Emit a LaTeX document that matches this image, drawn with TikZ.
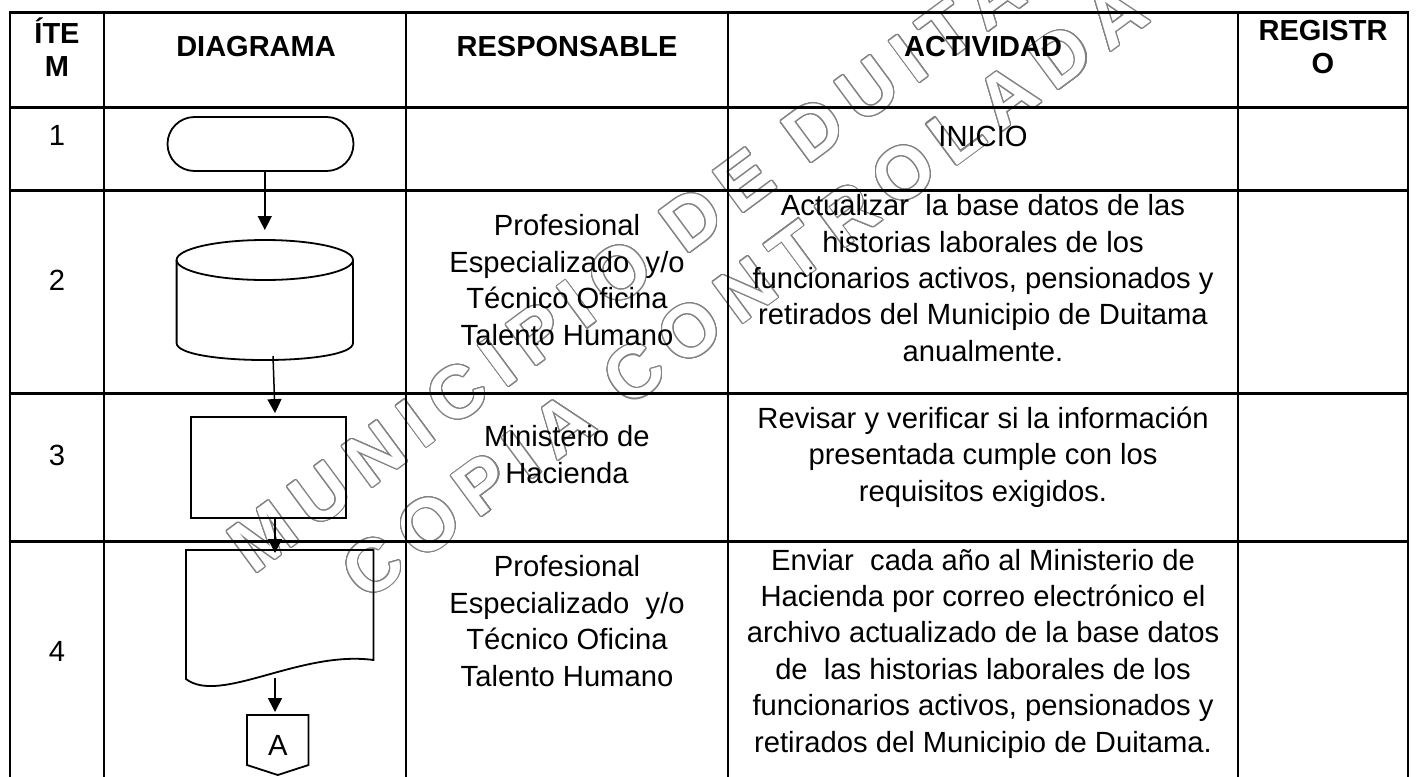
\documentclass[tikz,border=0pt]{standalone}
\usepackage{fontspec}
\setmainfont{Liberation Sans}
\usetikzlibrary{arrows.meta,shapes.misc}
\definecolor{wmgray}{RGB}{130,130,130}
\begin{document}
\begin{tikzpicture}[x=0.5pt,y=-0.5pt,
  grid/.style={line width=1.2pt},
  shp/.style={draw, line width=0.9pt},
  inv/.style={inner sep=0, outer sep=0},
  arr/.style={line width=0.75pt, -{Triangle[length=7pt,width=7pt]}},
  hd/.style={font=\fontsize{14.5}{16.5}\selectfont\bfseries, align=center, inner sep=0},
  txt/.style={font=\fontsize{14.6}{18.2}\selectfont, align=center, inner sep=0},
  wm/.style={font=\fontsize{37}{40}\selectfont\bfseries\addfontfeature{LetterSpace=19}, rotate=36.5, inner sep=0}
]
\useasboundingbox (0,0) rectangle (1416,776);
\fill[white] (0,0) rectangle (1416,776);

% watermark (outlined text)
\foreach \a in {0,15,...,345} {
  \node[wm, text=wmgray] at ([shift={(\a:0.55pt)}]684,225) {MUNICIPIO DE DUITAMA};
  \node[wm, text=wmgray] at ([shift={(\a:0.55pt)}]744,291) {COPIA CONTROLADA};
}
\node[wm, text=white] (wm1) at (684,225) {MUNICIPIO DE DUITAMA};
\node[wm, text=white] (wm2) at (744,291) {COPIA CONTROLADA};

% table grid
\draw[grid] (10,12.5) rectangle (1408,800);
\foreach \y in {107.5,190.5,393.5,541.5} \draw[grid] (10,\y) -- (1408,\y);
\foreach \x in {104,406,728,1238} \draw[grid] (\x,12.5) -- (\x,800);

% header
\node[hd] (hitem) at (57,47) {ÍTE\\M};
\node[hd] (hdiag) at (256,47) {DIAGRAMA};
\node[hd] (hresp) at (567,47) {RESPONSABLE};
\node[hd] (hact) at (983,47) {ACTIVIDAD};
\node[hd] (hreg) at (1323,47) {REGISTR\\O};

% item numbers
\node[txt] (n1) at (57,135) {1};
\node[txt] (n2) at (57,280) {2};
\node[txt] (n3) at (57,455) {3};
\node[txt] (n4) at (57,651) {4};

% responsables
\node[txt] (r2) at (567,280) {Profesional\\Especializado\ \ y/o\\Técnico Oficina\\Talento Humano};
\node[txt] (r3) at (567,454.5) {Ministerio de\\Hacienda};
\node[txt] (r4) at (567,621) {Profesional\\Especializado\ \ y/o\\Técnico Oficina\\Talento Humano};

% actividades
\node[txt] (a1) at (983,136.5) {INICIO};
\node[txt] (a2) at (983,278) {Actualizar\ \ la base datos de las\\historias laborales de los\\funcionarios activos, pensionados y\\retirados del Municipio de Duitama\\anualmente.};
\node[txt] (a3) at (983,457) {Revisar y verificar si la información\\presentada cumple con los\\requisitos exigidos.};
\node[txt] (a4) at (983,653.5) {Enviar\ \ cada año al Ministerio de\\Hacienda por correo electrónico el\\archivo actualizado de la base datos\\de\ \ las historias laborales de los\\funcionarios activos, pensionados y\\retirados del Municipio de Duitama.};

% flowchart shapes
\node[shp, rounded rectangle, minimum width=93pt, minimum height=27pt, inner sep=0] (inicio) at (260.5,144) {};

\node[inv, minimum width=88.2pt, minimum height=60pt] (cyl) at (264.8,300) {};
\draw[shp] (176.6,260) -- (176.6,343) .. controls (176.6,365.7) and (353,365.7) .. (353,343) -- (353,260);
\draw[shp] (264.8,260) ellipse [x radius=88.2, y radius=20];

\node[shp, rectangle, minimum width=77.3pt, minimum height=50.5pt, inner sep=0] (proc) at (268.3,467.5) {};

\node[inv, minimum width=93.75pt, minimum height=68pt] (doc) at (279.75,618) {};
\draw[shp] (186,550) -- (373.5,550) -- (373.5,660) .. controls (300,650) and (220,705) .. (186,679) -- cycle;

\node[inv, txt, minimum width=30.75pt, minimum height=30pt] (offp) at (277.75,745) {A};
\draw[shp] (offp.north west) -- (offp.north east) -- ([yshift=5pt]offp.south east) -- (offp.south) -- ([yshift=5pt]offp.south west) -- cycle;

% connectors
\draw[arr, shorten >=5pt] (inicio.south -| cyl.north) -- (cyl.north);
\draw[arr] ([shift={(8.2,-4)}]cyl.south) -- ([shift={(6.7,-3)}]proc.north);
\draw[arr] ([xshift=3.35pt]proc.south) -- ([shift={(-4.75,3)}]doc.north);
\draw[arr] ([shift={(-4.75,-8)}]doc.south) -- ([shift={(-2.75,-3)}]offp.north);
\end{tikzpicture}
\end{document}
